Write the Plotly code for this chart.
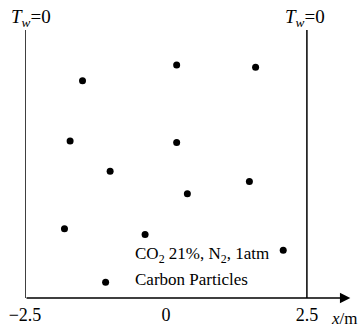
import plotly.graph_objects as go

# particle positions (x in m, y in m)
particle_x = [-1.48, 0.19, 1.59, -1.70, 0.19, -0.99, 1.48, 0.38, -1.80, -0.37, 2.08, -1.07]
particle_y = [3.86, 4.14, 4.10, 2.79, 2.76, 2.25, 2.07, 1.85, 1.23, 1.13, 0.85, 0.28]

tick_vals = [-2.5, 0, 2.5]
tick_text = ["\u22122.5", "0", "2.5"]

wall_x = [-2.5, 2.5]
wall_top = 4.76
x_max = 3.3

SERIF = "Liberation Serif, Times New Roman, serif"

fig = go.Figure()
fig.add_trace(go.Scatter(
    x=particle_x, y=particle_y, mode="markers",
    marker=dict(color="black", size=7, line=dict(width=0)),
    hoverinfo="skip", showlegend=False,
))

for wx in wall_x:
    fig.add_shape(type="line", x0=wx, x1=wx, y0=0, y1=wall_top,
                  xref="x", yref="y", line=dict(color="black", width=1.5))

# x axis with arrow
fig.add_annotation(x=x_max - 0.03, y=0, ax=-2.5, ay=0, xref="x", yref="y",
                   axref="x", ayref="y", text="", showarrow=True,
                   arrowhead=2, arrowsize=1.6, arrowwidth=1.3, arrowcolor="black",
                   standoff=0, startstandoff=0)

tw_text = "<i>T</i><sub><i>w</i></sub>=0"
fig.add_annotation(x=-2.40, y=1, xref="x", yref="paper", yanchor="bottom",
                   text=tw_text, showarrow=False, yshift=-2,
                   font=dict(family=SERIF, size=19, color="black"))
fig.add_annotation(x=2.47, y=1, xref="x", yref="paper", yanchor="bottom",
                   text=tw_text, showarrow=False, yshift=-2,
                   font=dict(family=SERIF, size=19, color="black"))

fig.add_annotation(x=-0.58, y=0.77, xref="x", yref="y", xanchor="left",
                   yanchor="middle",
                   text="CO<sub>2</sub> 21%, N<sub>2</sub>, 1atm", showarrow=False,
                   font=dict(family=SERIF, size=17, color="black"))
fig.add_annotation(x=-0.58, y=0.32, xref="x", yref="y", xanchor="left",
                   yanchor="middle",
                   text="Carbon Particles", showarrow=False,
                   font=dict(family=SERIF, size=17, color="black"))

fig.add_annotation(x=0.93, y=-0.075, xref="paper", yref="paper",
                   xanchor="left", yanchor="middle",
                   text="<i>x</i>/m", showarrow=False,
                   font=dict(family=SERIF, size=17, color="black"))

fig.update_xaxes(range=[-2.5, x_max], tickvals=tick_vals, ticktext=tick_text,
                 showgrid=False, zeroline=False, showline=False, ticks="",
                 ticklabelstandoff=4, automargin=False,
                 tickfont=dict(family=SERIF, size=18, color="black"))
fig.update_yaxes(range=[0, wall_top], showgrid=False, zeroline=False,
                 showline=False, showticklabels=False, ticks="", automargin=False)

fig.update_layout(width=360, height=327, margin=dict(l=25, r=8, t=30, b=29),
                  plot_bgcolor="white", paper_bgcolor="white")

fig.write_html("out.html")
